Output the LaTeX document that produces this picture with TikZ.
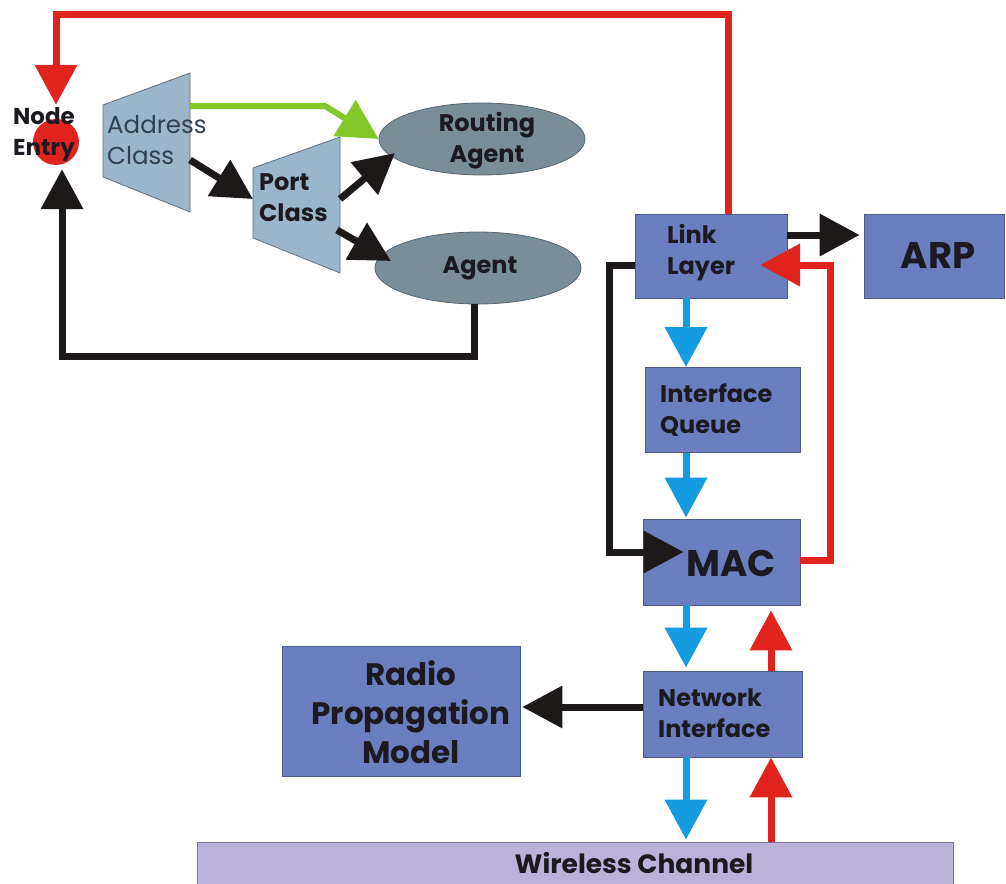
\documentclass[tikz,border=0pt]{standalone}
\usepackage{fontspec}
\setmainfont{Poppins}
\usetikzlibrary{arrows.meta,shapes.geometric}

\definecolor{cred}{RGB}{225,35,30}
\definecolor{cblue}{RGB}{20,155,225}
\definecolor{cgreen}{RGB}{130,200,40}
\definecolor{cblack}{RGB}{30,25,25}
\definecolor{boxfill}{RGB}{106,126,192}
\definecolor{boxline}{RGB}{80,90,130}
\definecolor{trapfill}{RGB}{155,181,202}
\definecolor{trapline}{RGB}{100,110,125}
\definecolor{ellfill}{RGB}{122,142,153}
\definecolor{ellline}{RGB}{85,100,110}
\definecolor{chanfill}{RGB}{186,178,216}
\definecolor{chanline}{RGB}{120,120,150}
\definecolor{txt}{RGB}{28,26,32}
\definecolor{txtsoft}{RGB}{50,65,80}

\begin{document}
\begin{tikzpicture}[x=1pt,y=-1pt,
  lbl/.style={font=\bfseries\fontsize{24}{31}\selectfont, text=txt, align=left, inner sep=0pt},
  biglbl/.style={font=\bfseries\fontsize{37}{40}\selectfont, text=txt, inner sep=0pt},
  blk/.style={draw=boxline, line width=0.8pt, fill=boxfill, inner sep=0pt},
  trap/.style={draw=trapline, line width=0.8pt, fill=trapfill},
  ell/.style={ellipse, draw=ellline, line width=0.8pt, fill=ellfill, inner sep=0pt,
              minimum width=206pt, minimum height=72pt},
  conn/.style={line width=7pt, -{Triangle[length=40pt,width=41pt]}},
  redc/.style={conn, draw=cred},
  bluec/.style={conn, draw=cblue},
  blackc/.style={conn, draw=cblack},
  greenc/.style={conn, draw=cgreen, line width=6pt, line join=round},
]
\useasboundingbox (0,0) rectangle (1006,883);

% ---- upper node structure -------------------------------------------
\node[circle, fill=cred, minimum size=46pt, inner sep=0pt] (ne) at (56,142) {};

\draw[trap] (103,105) coordinate (ac-nw) -- (190,73) coordinate (ac-ne)
  -- (190,212) coordinate (ac-se) -- (103,177) coordinate (ac-sw) -- cycle;
\node[font=\fontsize{24.5}{31}\selectfont, text=txtsoft, align=left, anchor=west, inner sep=0pt]
  (ac-text) at (107,140) {Address\\Class};

\draw[trap] (253,168) coordinate (pc-nw) -- (340,137) coordinate (pc-ne)
  -- (340,273) coordinate (pc-se) -- (253,238) coordinate (pc-sw) -- cycle;
\node[lbl, anchor=west] (pc-text) at (259,198) {Port\\Class};

\node[ell] (ra) at (482,139) {};
\node[lbl, align=center] (ra-text) at (487,141) {Routing\\Agent};
\node[ell] (ag) at (478,268) {};
\node[lbl] (ag-text) at (480,268) {Agent};

% connection points on the classifiers
\coordinate (ac-g) at (190,106);
\coordinate (ac-o) at (190,160);
\coordinate (pc-i) at (253,199);
\coordinate (pc-o1) at (340,199);
\coordinate (pc-o2) at (337,230);
\coordinate (ra-i) at (395,153);
\coordinate (ag-i) at (391,261);

% ---- lower protocol stack -------------------------------------------
\node[blk, minimum width=152pt, minimum height=84pt] (ll) at (711,256) {};
\node[lbl, anchor=west] (ll-text) at (667,253) {Link\\Layer};
\node[blk, minimum width=140pt, minimum height=84pt] (arp) at (934,256) {};
\node[biglbl] (arp-text) at (938,256) {ARP};
\node[blk, minimum width=155pt, minimum height=85pt] (iq) at (722.5,410) {};
\node[lbl, anchor=west] (iq-text) at (660,410) {Interface\\Queue};
\node[blk, minimum width=157pt, minimum height=86pt] (mac) at (721.5,562) {};
\node[biglbl] (mac-text) at (731,563) {MAC};
\node[blk, minimum width=159pt, minimum height=86pt] (ni) at (722.5,714) {};
\node[lbl, anchor=west] (ni-text) at (658,713) {Network\\Interface};
\node[blk, minimum width=238pt, minimum height=130pt] (rp) at (401,711) {};
\node[lbl, align=center, font=\bfseries\fontsize{31}{39}\selectfont] (rp-text) at (411,712)
  {Radio\\Propagation\\Model};
\node[draw=chanline, line width=0.8pt, fill=chanfill, minimum width=756pt,
      minimum height=70pt, inner sep=0pt] (wc) at (575,877) {};
\node[lbl, anchor=base, font=\bfseries\fontsize{26.5}{30}\selectfont] (wc-text) at (634,873) {Wireless Channel};

\coordinate (bx) at (686,0);
\coordinate (rx) at (771,0);

% ---- connectors --------------------------------------------------------
% link layer back up to the node entry
\draw[redc] ([xshift=17pt]ll.north) -- ++(0,-199) -| ([yshift=14pt]ne.north);
% agent back to the node entry
\draw[blackc] ([xshift=-4pt]ag.south) -- ++(0,52) -| ([xshift=6pt,yshift=-4pt]ne.south);
% classifier hand-offs
\draw[greenc] (ac-g) -- (325,106) -- (ra.west);
\draw[blackc] (ac-o) -- (pc-i);
\draw[blackc] (pc-o1) -- (ra-i);
\draw[blackc] (pc-o2) -- (ag-i);

% stack
\draw[blackc] ([yshift=21pt]ll.east) -- ([yshift=21pt,xshift=-4pt]arp.west);
\draw[bluec] (bx |- ll.south) -- (bx |- iq.north);
\draw[bluec] (bx |- iq.south) -- ([yshift=1pt]bx |- mac.north);
\draw[bluec] (bx |- mac.south) -- ([yshift=3pt]bx |- ni.north);
\draw[bluec] (bx |- ni.south) -- ([yshift=2pt]bx |- wc.north);
\draw[redc] (rx |- ni.north) -- ([yshift=-5pt]rx |- mac.south);
\draw[redc] (rx |- wc.north) -- (rx |- ni.south);
\draw[redc] ([yshift=2pt]mac.east) -- ++(30,0) |- ([xshift=49pt,yshift=-9pt]ll.center);
\draw[blackc] ([yshift=-9pt]ll.west) -- ++(-25,0) |- ([xshift=-38pt,yshift=10pt]mac.center);
\draw[blackc] ([yshift=7pt]ni.west) coordinate (ni-o) -- ([xshift=2pt]rp.east |- ni-o);

% node entry label drawn over its marker
\node[lbl, align=center, font=\bfseries\fontsize{23}{31}\selectfont] (ne-text) at (44,135) {Node\\Entry};
\end{tikzpicture}
\end{document}
